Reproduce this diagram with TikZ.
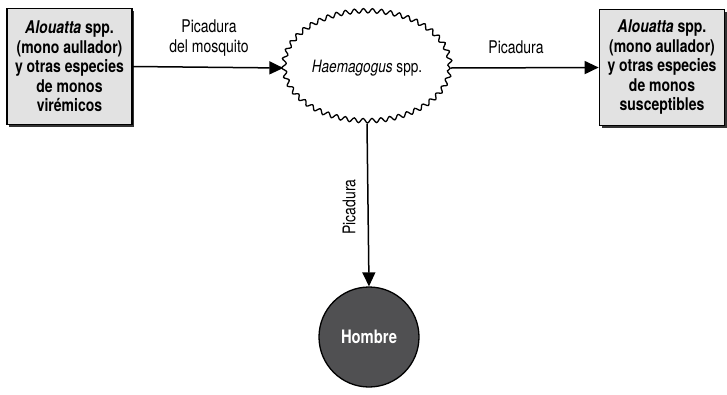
\documentclass[tikz,border=0pt]{standalone}
\usepackage{fontspec}
\setmainfont[FakeStretch=0.8]{TeX Gyre Heros}
\usetikzlibrary{shapes.geometric,decorations.pathmorphing,arrows.meta,shadows}
\definecolor{boxgray}{HTML}{E2E2E2}
\definecolor{mangray}{HTML}{505052}
\begin{document}
\begin{tikzpicture}[x=1pt,y=-1pt,
  hostbox/.style={draw=black,line width=1.7pt,fill=boxgray,
    minimum width=125pt,minimum height=116pt,inner sep=0pt,
    align=center,font=\fontsize{17.5}{19.5}\selectfont\bfseries,
    drop shadow={shadow xshift=2pt,shadow yshift=-2pt,fill=black,opacity=0.8}},
  vector/.style={ellipse,draw=black,line width=1.3pt,fill=white,
    minimum width=166pt,minimum height=110pt,inner sep=0pt,
    decorate,decoration={snake,amplitude=2.2pt,segment length=9pt},
    font=\fontsize{17}{19}\selectfont},
  human/.style={circle,draw=black,line width=1.3pt,fill=mangray,text=white,
    minimum size=100pt,inner sep=0pt,font=\fontsize{18.5}{20}\selectfont\bfseries},
  link/.style={line width=1.5pt,-{Triangle[length=14pt,width=13pt]}},
  lbl/.style={font=\fontsize{17.5}{20}\selectfont,align=center}]
\useasboundingbox (0,0) rectangle (727,394);

\node[hostbox] (src) at (69.5,66.5) {\textit{Alouatta} spp.\\(mono aullador)\\y otras especies\\de monos\\virémicos};
\node[hostbox] (dst) at (662,67.5) {\textit{Alouatta} spp.\\(mono aullador)\\y otras especies\\de monos\\susceptibles};
\node[vector] (mosq) at (367,68) {\textit{Haemagogus} spp.};
\node[human] (man) at (369,337) {Hombre};

\draw[link] (src.east) -- (mosq.west);
\draw[link] (mosq.east) -- (dst.west);
\draw[link] (mosq.south) -- (man.north);

\node[lbl] (l1) at (209,38) {Picadura\\del mosquito};
\node[lbl] (l2) at (516,47) {Picadura};
\node[lbl,rotate=90] (l3) at (349,207) {Picadura};
\end{tikzpicture}
\end{document}
